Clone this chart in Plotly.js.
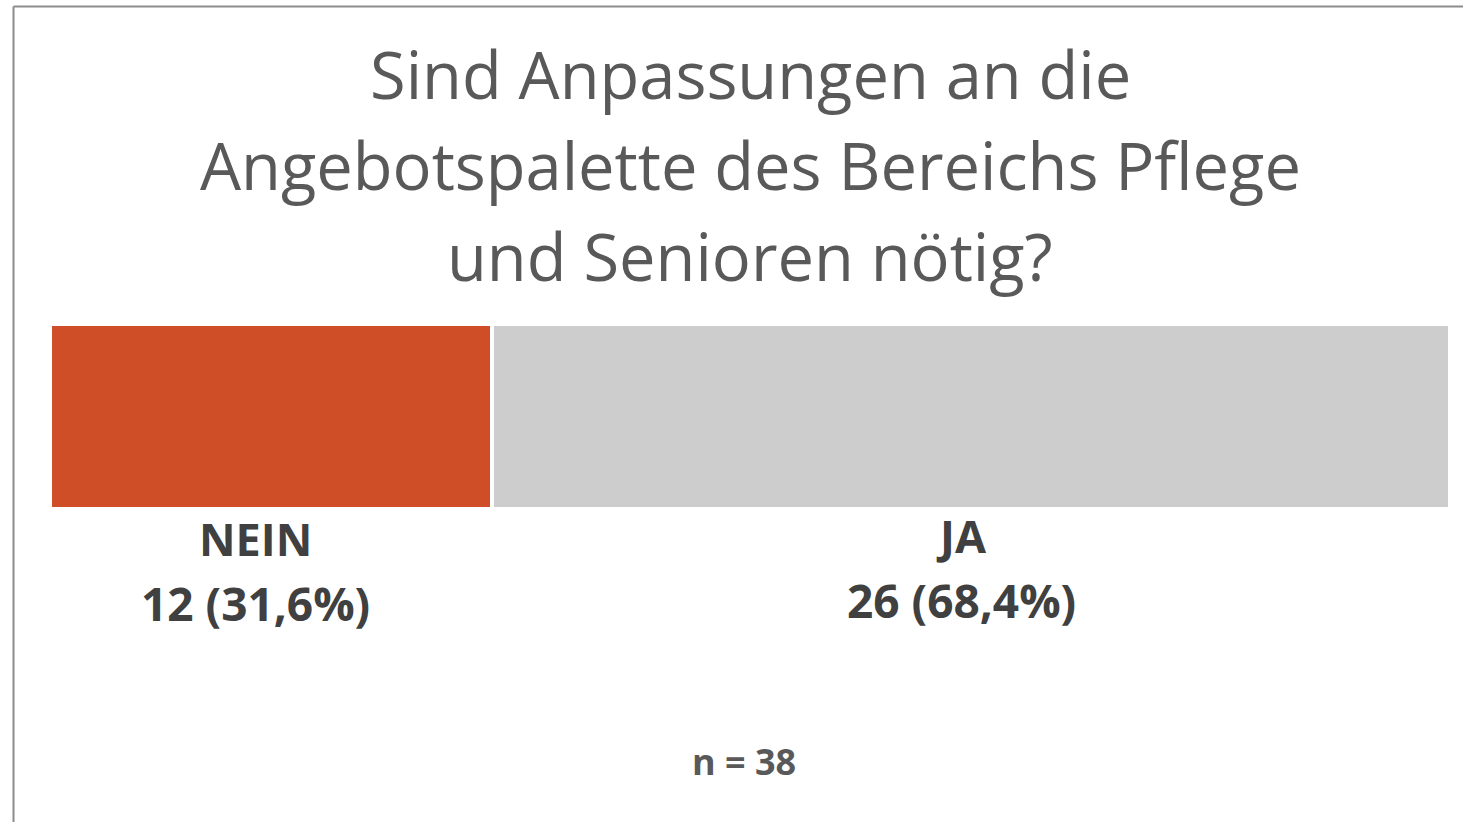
<!DOCTYPE html>
<html>
<head>
<meta charset="utf-8">
<script src="https://cdn.plot.ly/plotly-3.0.1.min.js"></script>
<style>
html,body{margin:0;padding:0;background:#fff;}
#chart{width:1463px;height:822px;}
</style>
</head>
<body>
<div id="chart"></div>
<script>
const categories = ["NEIN", "JA"];
const counts = [12, 26];
const percentLabels = ["31,6%", "68,4%"];
const barColors = ["#CF4E28", "#CCCDCC"];
const total = 38;
const titleLines = ["Sind Anpassungen an die", "Angebotspalette des Bereichs Pflege", "und Senioren nötig?"];

const W = 1463, H = 822;
const L = 50, R = 1450, T = 324, B = 509;
const px2x = p => (p - L) / (R - L);
const py2y = p => (B - p) / (B - T);

const traces = categories.map((c, i) => ({
  type: "bar", orientation: "h",
  y: ["q"], x: [counts[i]], name: c,
  marker: {color: barColors[i], line: {color: "#ffffff", width: 4}},
  hoverinfo: "none", width: 1
}));

const annotations = [];
const titleY = [74, 165, 256];
titleLines.forEach((t, i) => {
  annotations.push({
    x: px2x(750), xref: "paper", y: py2y(titleY[i]), yref: "paper",
    text: t, showarrow: false,
    font: {family: "Open Sans, sans-serif", size: 65, color: "#595959"},
    xanchor: "center", yanchor: "middle"
  });
});

const xshifts = [-16, -10];
const yshifts = [0, 3];
let cum = 0;
categories.forEach((c, i) => {
  const mid = cum + counts[i] / 2;
  cum += counts[i];
  annotations.push({
    x: mid, xref: "x", y: py2y(538 - yshifts[i]), yref: "paper",
    text: "<b>" + c + "</b>", showarrow: false, xshift: xshifts[i],
    font: {family: "Open Sans, sans-serif", size: 45, color: "#404040"},
    xanchor: "center", yanchor: "middle"
  });
  annotations.push({
    x: mid, xref: "x", y: py2y(603 - yshifts[i]), yref: "paper",
    text: "<b>" + counts[i] + " (" + percentLabels[i] + ")</b>", showarrow: false, xshift: xshifts[i],
    font: {family: "Open Sans, sans-serif", size: 46, color: "#404040"},
    xanchor: "center", yanchor: "middle"
  });
});
annotations.push({
  x: px2x(744), xref: "paper", y: py2y(761), yref: "paper",
  text: "<b>n = " + total + "</b>", showarrow: false,
  font: {family: "Open Sans, sans-serif", size: 36, color: "#595959"},
  xanchor: "center", yanchor: "middle"
});

const layout = {
  width: W, height: H,
  margin: {l: L, r: W - R, t: T, b: H - B, pad: 0},
  paper_bgcolor: "#ffffff", plot_bgcolor: "#ffffff",
  barmode: "stack", showlegend: false, bargap: 0,
  xaxis: {range: [0, total], visible: false, fixedrange: true},
  yaxis: {visible: false, fixedrange: true, range: [-0.5, 0.5]},
  annotations: annotations,
  shapes: [
    {type: "line", xref: "paper", yref: "paper", x0: px2x(13.5), x1: px2x(W + 2), y0: py2y(6.5), y1: py2y(6.5), line: {color: "#8c8c8c", width: 2}},
    {type: "line", xref: "paper", yref: "paper", x0: px2x(13.5), x1: px2x(13.5), y0: py2y(6.5), y1: py2y(H + 2), line: {color: "#8c8c8c", width: 2}}
  ]
};

Plotly.newPlot("chart", traces, layout, {displayModeBar: false, staticPlot: true});
</script>
</body>
</html>
